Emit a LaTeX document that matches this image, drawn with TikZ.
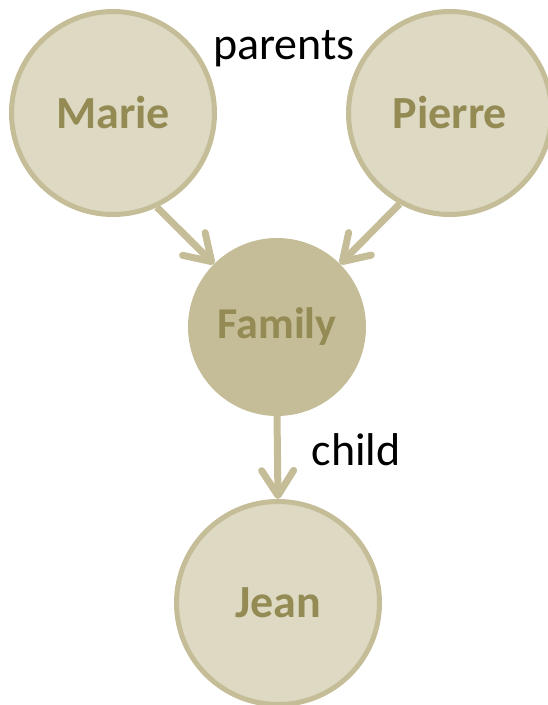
\documentclass[tikz,border=0pt]{standalone}
\usepackage{fontspec}
\setmainfont{Carlito}
\usetikzlibrary{arrows.meta}

\definecolor{personfill}{HTML}{DDD9C3}
\definecolor{olivedark}{HTML}{C4BD97}
\definecolor{nametext}{HTML}{948A54}

\tikzset{
  person/.style={circle, draw=olivedark, line width=5pt, fill=personfill,
    minimum size=203pt, inner sep=0pt, outer sep=2.5pt, text=nametext,
    font=\fontsize{46}{55}\selectfont\bfseries},
  union/.style={circle, fill=olivedark, minimum size=178pt, inner sep=0pt,
    outer sep=0pt, text=nametext, font=\fontsize{44}{53}\selectfont\bfseries},
  link/.style={draw=olivedark, line width=7pt,
    -{Straight Barb[length=25pt, width=32pt, round]}},
  role/.style={font=\fontsize{46}{55}\selectfont, anchor=base}
}

\begin{document}
\begin{tikzpicture}[x=1pt, y=-1pt]
  \useasboundingbox (0,0) rectangle (548,705);
  \clip (0,0) rectangle (548,705);

  \node[person] (marie)  at (113,113) {Marie};
  \node[person] (pierre) at (450,113) {Pierre};
  \node[union]  (family) at (277,327) {Family};
  \node[person] (jean)   at (278,603) {Jean};

  \draw[link] (marie.-65) -- (family.135);
  \draw[link] (pierre.-119) -- (family.45);
  \draw[link] (family.south) -- (jean.north);

  \node[role] (parents) at (284,59) {parents};
  \node[role] (child)   at (356,465) {child};
\end{tikzpicture}
\end{document}
